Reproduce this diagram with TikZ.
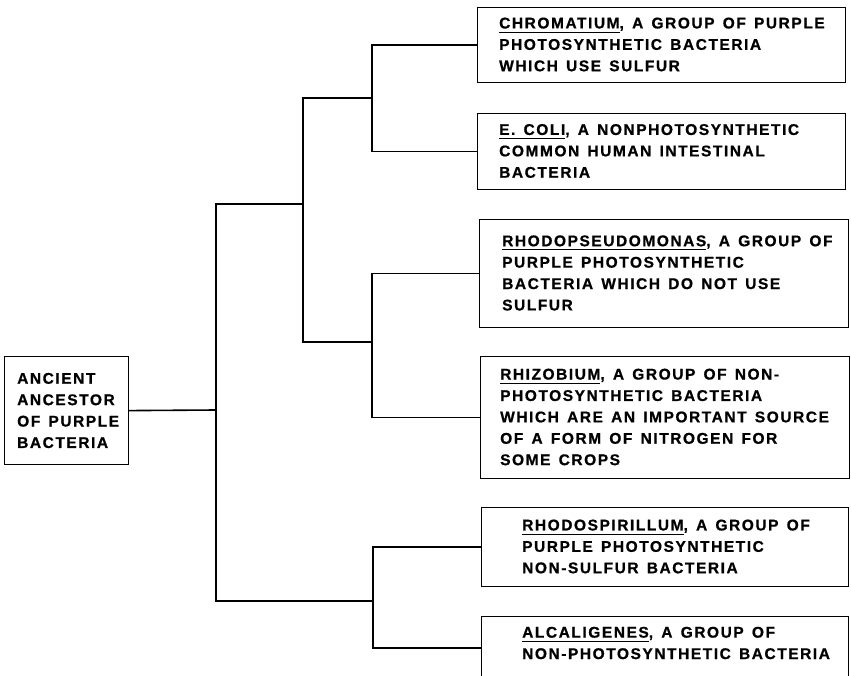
\documentclass[tikz,border=0pt]{standalone}
\usepackage{fontspec}
\setmainfont{Liberation Sans}[LetterSpace=10,WordSpace=1.4,BoldFeatures={FakeBold=0.8}]
\newcommand\gen[1]{\setbox0\hbox{#1}\rlap{\rule[-4pt]{\wd0}{0.9pt}}\box0}
\begin{document}
\begin{tikzpicture}[x=1pt,y=-1pt,
  box/.style={draw, line width=1.2pt, rectangle, inner sep=0pt, anchor=north west},
  lbl/.style={anchor=west, align=left, inner sep=0pt, font=\fontsize{15.5}{21.4}\selectfont\bfseries},
  conn/.style={line width=1.6pt}]
\clip (0,0) rectangle (851,676);
\useasboundingbox (0,0) rectangle (851,676);
% boxes
\node[box, minimum width=124pt, minimum height=108pt] (root) at (4,356) {};
\node[box, minimum width=368pt, minimum height=75pt] (b1) at (477,7) {};
\node[box, minimum width=368pt, minimum height=76pt] (b2) at (477,113) {};
\node[box, minimum width=369pt, minimum height=108pt] (b3) at (479,219) {};
\node[box, minimum width=369pt, minimum height=122pt] (b4) at (480,356) {};
\node[box, minimum width=367pt, minimum height=79pt] (b5) at (481,507) {};
\node[box, minimum width=367pt, minimum height=120pt] (b6) at (481,616) {};
% texts
\node[lbl] (troot) at (17,410.5) {ANCIENT\\ANCESTOR\\OF PURPLE\\BACTERIA};
\node[lbl] (t1) at (499,44.5) {\gen{CHROMATIUM}, A GROUP OF PURPLE\\PHOTOSYNTHETIC BACTERIA\\WHICH USE SULFUR};
\node[lbl] (t2) at (499,151) {\gen{E. COLI}, A NONPHOTOSYNTHETIC\\COMMON HUMAN INTESTINAL\\BACTERIA};
\node[lbl] (t3) at (502,273) {\gen{RHODOPSEUDOMONAS}, A GROUP OF\\PURPLE PHOTOSYNTHETIC\\BACTERIA WHICH DO NOT USE\\SULFUR};
\node[lbl] (t4) at (500,417) {\gen{RHIZOBIUM}, A GROUP OF NON-\\PHOTOSYNTHETIC BACTERIA\\WHICH ARE AN IMPORTANT SOURCE\\OF A FORM OF NITROGEN FOR\\SOME CROPS};
\node[lbl] (t5) at (522,546.5) {\gen{RHODOSPIRILLUM}, A GROUP OF\\PURPLE PHOTOSYNTHETIC\\NON-SULFUR BACTERIA};
\node[lbl] (t6) at (522,643) {\gen{ALCALIGENES}, A GROUP OF\\NON-PHOTOSYNTHETIC BACTERIA};
% junctions
\coordinate (ga) at (372,98);
\coordinate (gb) at (372,342);
\coordinate (gc) at (373,601);
\coordinate (ua) at (303,204);
\coordinate (tr) at (216,410);
% connectors
\draw[conn] (b1.west) -| (ga) |- (b2.west);
\draw[conn] (b3.west) -| (gb) |- (b4.west);
\draw[conn] (b5.west) -| (gc) |- ([yshift=-32pt]b6.north west);
\draw[conn] (ga) -| (ua) |- (gb);
\draw[conn] (ua) -| (tr) |- (gc);
\draw[conn] (root.east) -- (tr);
\end{tikzpicture}
\end{document}
